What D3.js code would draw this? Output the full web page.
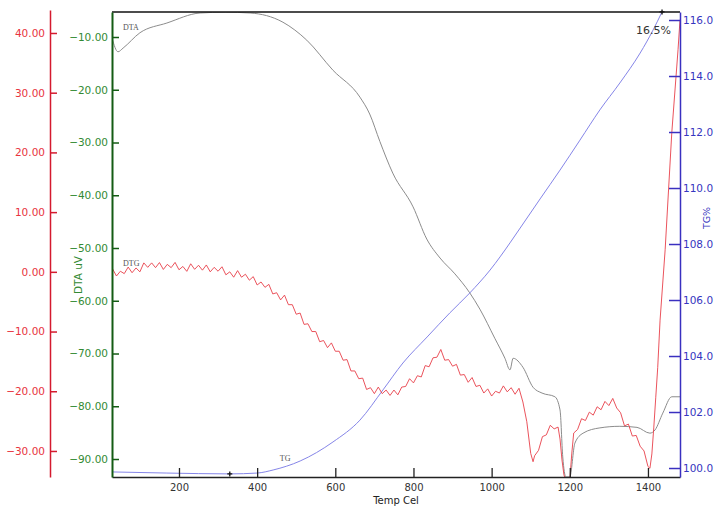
<!DOCTYPE html>
<html><head><meta charset="utf-8">
<script src="https://cdn.jsdelivr.net/npm/d3@7"></script>
<style>
html,body{margin:0;padding:0;background:#fff;}
svg{display:block;font-family:"DejaVu Sans",Verdana,sans-serif;}
</style></head>
<body>
<svg id="c" width="714" height="507"></svg>
<script>
// ---- data ----
const xTicks = [200, 400, 600, 800, 1000, 1200, 1400];
const dtgTicks = [40, 30, 20, 10, 0, -10, -20, -30];
const dtaTicks = [-10, -20, -30, -40, -50, -60, -70, -80, -90];
const tgTicks = [116, 114, 112, 110, 108, 106, 104, 102, 100];

const dtaTemp = [28.6,44,57,100,169,254,318,382,466,527,594,663,688,714,747,799,834,868,906,944,970,1008,1034,1047,1055,1080,1106,1129,1162,1175,1182,1190,1200,1213,1234,1277,1328,1372,1405,1418,1438,1461,1482];
const dtaVal  = [-10.2,-12.8,-12.1,-9.2,-7.35,-5.45,-5.3,-5.45,-7.2,-10.6,-16.3,-21.4,-24.6,-29.8,-35.8,-42.2,-48.3,-51.9,-54.9,-58.5,-61.6,-67.1,-70.9,-73.1,-70.9,-72.6,-76.4,-77.5,-78.2,-80.7,-89.6,-93.4,-93.4,-87.0,-85.1,-84.1,-83.8,-84.0,-85.1,-84.5,-81.3,-78.2,-78.2];

const tgTemp = [28.6,169,330,400,441,510,594,663,722,773,835,893,944,996,1047,1073,1124,1175,1226,1277,1328,1380,1413,1436];
const tgVal  = [99.86,99.82,99.79,99.82,99.93,100.25,100.93,101.71,102.79,103.75,104.68,105.54,106.25,107.07,108.04,108.57,109.61,110.64,111.71,112.79,113.75,114.82,115.64,116.29];

const dtgTemp = [30,40,50,60,70,80,90,100,110,120,130,140,150,160,170,180,190,200,210,220,230,240,250,260,270,280,290,300,310,320,330,340,350,360,370,380,390,400,410,420,430,440,450,460,470,480,490,500,510,520,530,540,550,560,570,580,590,600,610,620,630,640,650,660,670,680,690,700,710,720,730,740,750,760,770,780,790,800,810,820,830,840,850,860,870,880,890,900,910,920,930,940,950,960,970,980,990,1000,1010,1020,1030,1040,1050,1060,1070,1080,1090,1100,1106,1110,1120,1130,1140,1150,1160,1170,1175,1180,1185,1190,1200,1205,1210,1220,1230,1240,1250,1260,1270,1280,1290,1300,1310,1320,1330,1340,1350,1360,1370,1380,1390,1400,1405,1410,1415,1420,1425,1431,1444,1461,1477,1482];
const dtgVal = [0.5,-0.7,0.1,-0.3,0.8,-0.15,0.65,0.0,1.5,0.75,1.5,0.7,1.55,0.4,1.25,0.7,1.58,0.35,0.9,0.08,1.35,0.42,1.1,0.28,1.15,0.0,0.75,0.1,0.85,-0.5,0.0,-0.9,0.2,-0.9,-0.4,-1.4,-0.8,-2.2,-1.7,-2.6,-2.1,-3.7,-3.5,-4.7,-3.9,-5.5,-5.5,-7.1,-6.9,-8.8,-8.7,-10.0,-10.0,-11.7,-11.5,-12.7,-11.9,-13.3,-13.3,-14.8,-14.7,-16.6,-16.6,-17.9,-17.8,-19.7,-19.4,-20.4,-19.3,-20.4,-19.8,-20.7,-19.8,-20.6,-19.3,-19.2,-17.9,-18.6,-17.4,-17.6,-15.7,-15.9,-14.4,-14.3,-13.0,-14.8,-14.7,-15.8,-15.5,-17.3,-17.2,-18.5,-17.7,-19.2,-19.0,-20.3,-19.6,-20.8,-20.0,-20.3,-19.1,-20.1,-19.4,-20.5,-19.5,-21.8,-25.1,-30.4,-31.8,-30.8,-29.9,-27.6,-27.3,-25.7,-26.3,-26.0,-28.0,-31.5,-34.0,-35.0,-35.0,-30.5,-27.0,-26.4,-24.6,-24.9,-23.5,-24.0,-22.6,-23.1,-21.7,-22.4,-21.2,-22.8,-23.6,-25.8,-25.5,-27.5,-27.4,-29.2,-30.0,-32.6,-32.9,-30.5,-26.0,-21.0,-16.0,-8.1,3.7,23.3,37.2,42.2];

const massChange = "16.5%";

// ---- layout ----
const L = 112, R = 680, T = 12, B = 477;
const svg = d3.select("#c");

const x = d3.scaleLinear().domain([28.6, 1482]).range([L, R]);
const yDTG = d3.scaleLinear().domain([-34.36, 43.85]).range([B, 10]);
const yDTA = d3.scaleLinear().domain([-93.41, -5.26]).range([B, T]);
const yTG = d3.scaleLinear().domain([99.679, 116.286]).range([B, T]);

svg.append("defs").append("clipPath").attr("id","pc")
  .append("rect").attr("x", L).attr("y", T).attr("width", R - L).attr("height", B - T);

const fmt2 = d3.format(".2f"), fmt1 = d3.format(".1f");

// curves
const g = svg.append("g").attr("clip-path", "url(#pc)");
const zip = (a, b) => a.map((t, i) => [t, b[i]]);

g.append("path").datum(zip(dtaTemp, dtaVal))
  .attr("fill","none").attr("stroke","#8c8c8c").attr("stroke-width",1)
  .attr("d", d3.line().x(d => x(d[0])).y(d => yDTA(d[1])).curve(d3.curveMonotoneX));

g.append("path").datum(zip(tgTemp, tgVal))
  .attr("fill","none").attr("stroke","#8585e8").attr("stroke-width",1)
  .attr("d", d3.line().x(d => x(d[0])).y(d => yTG(d[1])).curve(d3.curveMonotoneX));

g.append("path").datum(zip(dtgTemp, dtgVal))
  .attr("fill","none").attr("stroke","#e8404a").attr("stroke-width",0.9)
  .attr("d", d3.line().x(d => x(d[0])).y(d => yDTG(d[1])));

// frame top
svg.append("line").attr("x1", L).attr("x2", R).attr("y1", T).attr("y2", T)
  .attr("stroke","#111").attr("stroke-width",1.5);

// bottom axis
const ax = svg.append("g").attr("transform", `translate(0,${B})`)
  .call(d3.axisBottom(x).tickValues(xTicks).tickSizeInner(-9).tickSizeOuter(0).tickPadding(7).tickFormat(d3.format("d")));
ax.select(".domain").attr("stroke","#222").attr("stroke-width",1.5);
ax.selectAll(".tick line").attr("stroke","#222").attr("stroke-width",1.3);
ax.selectAll(".tick text").attr("fill","#333").style("font-size","10px").style("font-family","DejaVu Sans");

// red DTG axis
const ar = svg.append("g").attr("transform", "translate(50,0)")
  .call(d3.axisLeft(yDTG).tickValues(dtgTicks).tickSizeInner(-7).tickSizeOuter(0).tickPadding(5).tickFormat(fmt2));
ar.select(".domain").attr("stroke","#d41a2e").attr("stroke-width",1.5);
ar.selectAll(".tick line").attr("stroke","#d41a2e").attr("stroke-width",1.5);
ar.selectAll(".tick text").attr("fill","#e8343e").style("font-size","10.5px").style("font-family","DejaVu Sans");

// green DTA axis
const ag = svg.append("g").attr("transform", `translate(${L},0)`)
  .call(d3.axisLeft(yDTA).tickValues(dtaTicks).tickSizeInner(-7).tickSizeOuter(0).tickPadding(4).tickFormat(fmt2));
ag.select(".domain").attr("stroke","#145c14").attr("stroke-width",2);
ag.selectAll(".tick line").attr("stroke","#145c14").attr("stroke-width",1.5);
ag.selectAll(".tick text").attr("fill","#338a33").style("font-size","10.5px").style("font-family","DejaVu Sans");

// blue TG axis
const ab = svg.append("g").attr("transform", `translate(${R},0)`)
  .call(d3.axisRight(yTG).tickValues(tgTicks).tickSizeInner(-11).tickSizeOuter(0).tickPadding(3).tickFormat(fmt1));
ab.select(".domain").attr("stroke","#3a30c0").attr("stroke-width",1.5);
ab.selectAll(".tick line").attr("stroke","#3a30c0").attr("stroke-width",1.5);
ab.selectAll(".tick text").attr("fill","#3535c0").style("font-size","10.5px").style("font-family","DejaVu Sans");

// axis titles
svg.append("text").attr("x", (L + R) / 2 + 0).attr("y", 504).attr("text-anchor","middle")
  .attr("fill","#222").style("font-size","10px").text("Temp Cel");
svg.append("text").attr("transform","translate(82,275) rotate(-90)").attr("text-anchor","middle")
  .attr("fill","#338a33").style("font-size","10.5px").text("DTA uV");
svg.append("text").attr("transform","translate(710,218) rotate(-90)").attr("text-anchor","middle")
  .attr("fill","#3535c0").style("font-size","9.5px").text("TG%");

// series labels
const lab = (t, tx, v, sc) => svg.append("text").attr("x", x(tx)).attr("y", sc(v))
  .attr("fill","#555").style("font-family","Liberation Serif").style("font-size","8px").text(t);
lab("DTA", 57, yDTA.invert(30), yDTA);
lab("DTG", 57, yDTG.invert(266), yDTG);
lab("TG", 458, yTG.invert(461), yTG);

// mass change annotation
const minI = tgVal.indexOf(d3.min(tgVal)), maxI = tgVal.indexOf(d3.max(tgVal));
svg.append("text").attr("x", x(tgTemp[maxI]) + 9).attr("y", 34).attr("text-anchor","end")
  .attr("fill","#333").style("font-size","11px").text(massChange);
[[tgTemp[minI], tgVal[minI]], [tgTemp[maxI], tgVal[maxI]]].forEach(([t, v]) => {
  const cx = x(t), cy = yTG(v);
  svg.append("path").attr("d", `M${cx-2.5},${cy}H${cx+2.5}M${cx},${cy-2.5}V${cy+2.5}`)
    .attr("stroke","#111").attr("stroke-width",1.3);
});
</script>
</body></html>
